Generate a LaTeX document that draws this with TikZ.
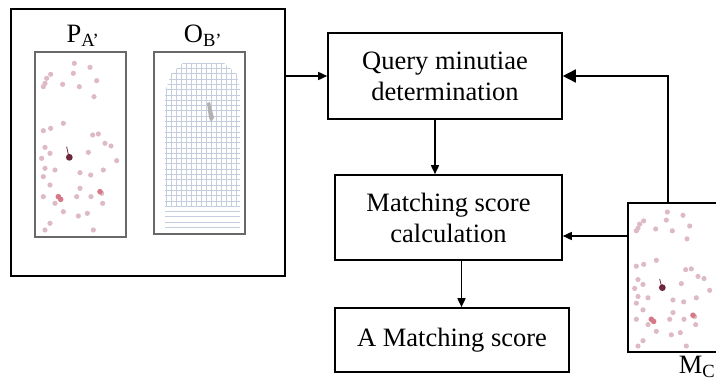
\documentclass[tikz,border=0pt]{standalone}
\usepackage{fontspec}
\setmainfont{Liberation Serif}
\usetikzlibrary{arrows.meta}
\definecolor{dotc}{RGB}{222,186,196}
\definecolor{dotred}{RGB}{214,120,136}
\definecolor{dotdark}{RGB}{110,40,60}
\definecolor{gridc}{RGB}{196,206,222}
\definecolor{framegray}{RGB}{105,105,105}

% minutiae cloud, coordinates in a 1/3 pt grid
\newcommand\minutiaecloud{%
  \foreach \a/\b in {133/70,180/82,200/122,62/103,45/130,40/140,98/133,148/140,
      192/170,100/250,62/265,40/272,188/285,205/282,225/310,243/318,45/322,
      60/340,175/337,35/355,260/362,45/385,75/390,150/398,182/405,220/390,
      40/410,60/435,150/445,40/470,140/470,183/470,215/460,218/490,75/490,
      100/515,145/528,172/520,60/550,45/570,190/570,130/100,50/115}
    \fill[dotc] (\a,\b) circle (2.6pt);
  \foreach \a/\b in {85/470,92/478,210/455}
    \fill[dotred] (\a,\b) circle (2.8pt);
  \draw[dotdark, line width=0.8pt] (110,320) -- (116,348);
  \fill[dotdark] (118,352) circle (3.4pt);
}

\begin{document}
\begin{tikzpicture}[x=1pt, y=-1pt,
  font=\fontsize{26.5}{31}\selectfont,
  blockbox/.style={draw, line width=1.6pt, align=center, inner sep=0pt},
  imgframe/.style={draw=framegray, line width=1.6pt, inner sep=0pt},
  conn/.style={line width=1.6pt, -{Triangle[length=9pt,width=8pt]}},
  bigconn/.style={line width=1.6pt, -{Triangle[length=13pt,width=13pt]}}]

\useasboundingbox (0,0) rectangle (716,380);
\clip (0,0) rectangle (716,380);

% input group: query minutiae and orientation field
\node[draw, line width=1.8pt, minimum width=274pt, minimum height=267pt] (outer) at (148,142.5) {};
\node[imgframe, minimum width=91pt, minimum height=185pt] (pa) at (80.5,144.5) {};
\node[imgframe, minimum width=91pt, minimum height=182pt] (ob) at (199.5,143) {};
\node (palbl) at (83,36) {P\textsubscript{A'}};
\node (oblbl) at (203,36) {O\textsubscript{B'}};

\begin{scope}[shift={(30,40)}, x=1/3pt, y=-1/3pt]
  \minutiaecloud
\end{scope}

% orientation field grid
\begin{scope}
  \clip (183,63) -- (224,63) -- (237,74) -- (240,90) -- (240,228) -- (165,228) -- (165,92) -- (171,74) -- cycle;
  \foreach \yy in {63,68.3,...,228}
    \draw[gridc, line width=0.6pt] (160,\yy) -- (245,\yy);
  \foreach \xx in {166,171,...,240}
    \draw[gridc, line width=0.6pt] (\xx,60) -- (\xx,206);
\end{scope}
\fill[gray!60] (207,103) -- (210,102) -- (214,118) -- (211,122) -- (209,118) -- cycle;

% processing blocks
\node[blockbox, minimum width=234pt, minimum height=86pt] (query) at (445,76) {Query minutiae\\determination};
\node[blockbox, minimum width=227pt, minimum height=85pt] (match) at (448.5,217.5) {Matching score\\calculation};
\node[blockbox, minimum width=234pt, minimum height=64pt] (score) at (452,340) {A Matching score};

% candidate template
\node[draw, line width=1.6pt, minimum width=94pt, minimum height=149pt, inner sep=0pt] (mc) at (675,277.5) {};
\begin{scope}
  \clip (mc.north west) rectangle (mc.south east);
  \begin{scope}[shift={(623,193.3)}, x=1/3pt, y=-0.268pt]
    \minutiaecloud
  \end{scope}
\end{scope}
\node (mclbl) at (697,367) {M\textsubscript{C}};

% connectors
\draw[conn] (outer.east |- query.west) -- (query.west);
\draw[conn] ([xshift=-10pt]query.south) -- ([xshift=-10pt]query.south |- match.north);
\draw[conn] ([xshift=13pt]match.south) -- ([xshift=13pt]match.south |- score.north);
\coordinate (mcin) at (mc.west |- 0,236);
\draw[conn] (mcin) -- (mcin -| match.east);
\draw[bigconn] ([xshift=-7pt]mc.north) |- (query.east);
\end{tikzpicture}
\end{document}
